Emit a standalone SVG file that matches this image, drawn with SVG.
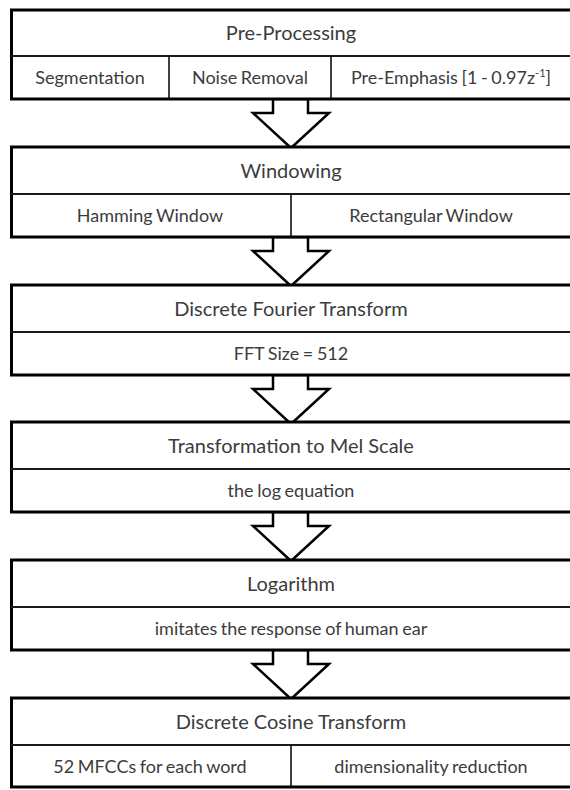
<svg xmlns="http://www.w3.org/2000/svg" width="570" height="790" viewBox="0 0 570 790">
<style>
.box{fill:#fff;stroke:#000;stroke-width:3}
.hdiv{stroke:#1a1a1a;stroke-width:2}
.vdiv{stroke:#000;stroke-width:1.5}
.h{font-family:Lato,"Liberation Sans",sans-serif;font-size:20px;fill:#3c3c3c;text-anchor:middle}
.s{font-family:Lato,"Liberation Sans",sans-serif;font-size:18px;fill:#3c3c3c;text-anchor:middle;word-spacing:-1px}
.arrow{fill:#fff;stroke:#000;stroke-width:2.5;stroke-linejoin:miter}
</style>
<rect width="570" height="790" fill="#fff"/>
<g id="connectors">
<polygon class="arrow" points="273,99 273,113 253,113 291,148 329,113 308,113 308,99"/>
<polygon class="arrow" points="273,237 273,251 253,251 291,286 329,251 308,251 308,237"/>
<polygon class="arrow" points="273,375 273,389 253,389 291,424 329,389 308,389 308,375"/>
<polygon class="arrow" points="273,512 273,526 253,526 291,561 329,526 308,526 308,512"/>
<polygon class="arrow" points="273,650 273,664 253,664 291,699 329,664 308,664 308,650"/>
</g>
<g id="preprocessing">
<rect class="box" x="11.5" y="10" width="570" height="89"/>
<line class="hdiv" x1="11" y1="56" x2="572" y2="56"/>
<line class="vdiv" x1="169" y1="56" x2="169" y2="99"/>
<line class="vdiv" x1="331" y1="56" x2="331" y2="99"/>
<text class="h" x="291" y="40">Pre-Processing</text>
<text class="s" x="90" y="84">Segmentation</text>
<text class="s" x="250" y="84">Noise Removal</text>
<text class="s" x="451" y="84">Pre-Emphasis [1 - 0.97z<tspan font-size="11" dy="-7">-1</tspan><tspan dy="7">]</tspan></text>
</g>
<g id="windowing">
<rect class="box" x="11.5" y="147" width="570" height="90"/>
<line class="hdiv" x1="11" y1="194" x2="572" y2="194"/>
<line class="vdiv" x1="291" y1="194" x2="291" y2="237"/>
<text class="h" x="291" y="178">Windowing</text>
<text class="s" x="150" y="222">Hamming Window</text>
<text class="s" x="431" y="222">Rectangular Window</text>
</g>
<g id="dft">
<rect class="box" x="11.5" y="285" width="570" height="90"/>
<line class="hdiv" x1="11" y1="332" x2="572" y2="332"/>
<text class="h" x="291" y="316">Discrete Fourier Transform</text>
<text class="s" x="291" y="360">FFT Size = 512</text>
</g>
<g id="mel">
<rect class="box" x="11.5" y="422" width="570" height="90"/>
<line class="hdiv" x1="11" y1="469" x2="572" y2="469"/>
<text class="h" x="291" y="453">Transformation to Mel Scale</text>
<text class="s" x="291" y="497">the log equation</text>
</g>
<g id="logarithm">
<rect class="box" x="11.5" y="560" width="570" height="90"/>
<line class="hdiv" x1="11" y1="607" x2="572" y2="607"/>
<text class="h" x="291" y="591">Logarithm</text>
<text class="s" x="291" y="635">imitates the response of human ear</text>
</g>
<g id="dct">
<rect class="box" x="11.5" y="698" width="570" height="89"/>
<line class="hdiv" x1="11" y1="745" x2="572" y2="745"/>
<line class="vdiv" x1="291" y1="745" x2="291" y2="787"/>
<text class="h" x="291" y="729">Discrete Cosine Transform</text>
<text class="s" x="150" y="773">52 MFCCs for each word</text>
<text class="s" x="431" y="773">dimensionality reduction</text>
</g>
</svg>
